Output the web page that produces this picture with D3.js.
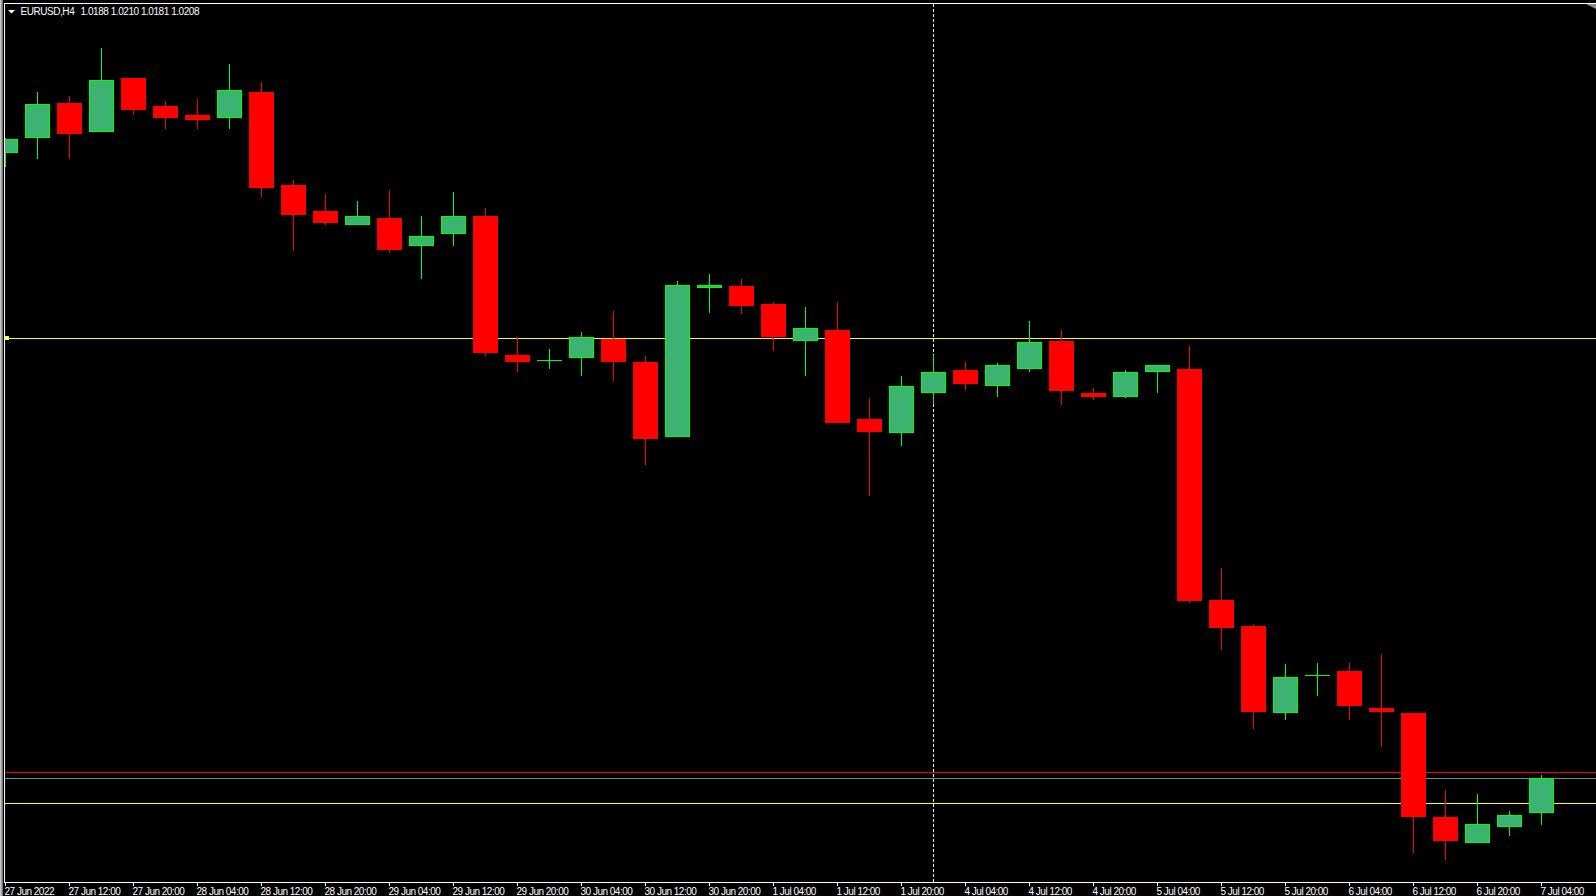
<!DOCTYPE html>
<html>
<head>
<meta charset="utf-8">
<script src="https://cdn.jsdelivr.net/npm/d3@7"></script>
<style>
  html, body { margin: 0; padding: 0; background: #000; overflow: hidden; }
  svg { display: block; }
  text { font-family: "Liberation Sans", Arial, sans-serif; font-size: 10px; letter-spacing: -0.45px; fill: #ffffff; }
</style>
</head>
<body>
<script>
// ---- data (EURUSD, H4) ----
const symbolTitle = "EURUSD,H4";
const lastOHLC = "1.0188 1.0210 1.0181 1.0208";

const opens  = [1.0565,1.0574,1.0594,1.0577,1.0608,1.0592,1.0587,1.0585,1.0600,1.0547,
                1.0532,1.0524,1.0528,1.0512,1.0519,1.0529,1.0450,1.0447,1.0448,1.0459,
                1.0446,1.0403,1.0488,1.0489,1.0479,1.0458,1.0464,1.0413,1.0405,1.0428,
                1.0441,1.0432,1.0442,1.0458,1.0428,1.0426,1.0440,1.0442,1.0310,1.0295,
                1.0245,1.0267,1.0269,1.0248,1.0245,1.0186,1.0171,1.0180,1.0188];
const highs  = [1.0574,1.0600,1.0598,1.0625,1.0608,1.0595,1.0596,1.0616,1.0606,1.0550,
                1.0542,1.0538,1.0544,1.0529,1.0543,1.0534,1.0460,1.0453,1.0463,1.0475,
                1.0449,1.0492,1.0496,1.0493,1.0480,1.0477,1.0480,1.0425,1.0438,1.0450,
                1.0446,1.0445,1.0469,1.0464,1.0431,1.0441,1.0444,1.0455,1.0328,1.0296,
                1.0273,1.0274,1.0274,1.0279,1.0245,1.0201,1.0199,1.0189,1.0210];
const lows   = [1.0557,1.0562,1.0562,1.0577,1.0587,1.0579,1.0579,1.0579,1.0540,1.0509,
                1.0524,1.0524,1.0508,1.0493,1.0512,1.0449,1.0440,1.0442,1.0438,1.0435,
                1.0387,1.0403,1.0474,1.0473,1.0452,1.0438,1.0411,1.0369,1.0398,1.0422,
                1.0430,1.0426,1.0440,1.0421,1.0424,1.0425,1.0428,1.0308,1.0281,1.0236,
                1.0241,1.0255,1.0241,1.0226,1.0165,1.0161,1.0171,1.0175,1.0181];
const closes = [1.0573,1.0593,1.0576,1.0607,1.0590,1.0585,1.0584,1.0601,1.0545,1.0530,
                1.0525,1.0529,1.0510,1.0518,1.0529,1.0451,1.0446,1.0447,1.0460,1.0446,
                1.0402,1.0490,1.0490,1.0478,1.0460,1.0465,1.0411,1.0406,1.0432,1.0440,
                1.0433,1.0444,1.0457,1.0429,1.0426,1.0440,1.0444,1.0309,1.0294,1.0246,
                1.0266,1.0267,1.0249,1.0246,1.0186,1.0172,1.0182,1.0187,1.0208];

const tickLabels = ["27 Jun 2022","27 Jun 12:00","27 Jun 20:00","28 Jun 04:00","28 Jun 12:00",
                    "28 Jun 20:00","29 Jun 04:00","29 Jun 12:00","29 Jun 20:00","30 Jun 04:00",
                    "30 Jun 12:00","30 Jun 20:00","1 Jul 04:00","1 Jul 12:00","1 Jul 20:00",
                    "4 Jul 04:00","4 Jul 12:00","4 Jul 20:00","5 Jul 04:00","5 Jul 12:00",
                    "5 Jul 20:00","6 Jul 04:00","6 Jul 12:00","6 Jul 20:00","7 Jul 04:00"];

const levelPrices = [1.04594, 1.02114, 1.02080, 1.01937];
const levelColors = ["#ffff00", "#ff0000", "#778899", "#ffff00"];
const vlineBar = 29;      // dashed vertical line bar index
const priceMin = 1.01487, priceMax = 1.06510;

// ---- layout ----
const W = 1596, H = 896;
const plotLeft = 5, plotTop = 4, plotBottom = 882;
const bull = "#00ff00", bullFill = "#3cb371", bear = "#ff0000";

const bars = opens.map((o, i) => ({ i, o, h: highs[i], l: lows[i], c: closes[i] }));

const svg = d3.select("body").append("svg").attr("width", W).attr("height", H)
  .attr("shape-rendering", "crispEdges");
svg.append("rect").attr("width", W).attr("height", H).attr("fill", "#000");

const x = d3.scaleLinear().domain([0, bars.length - 1]).range([5, 5 + 32 * (bars.length - 1)]);
const y = d3.scaleLinear().domain([priceMin, priceMax]).range([plotBottom, 3]);
const Y = p => Math.round(y(p));

// window frame
["#c8c8c8", "#a0a0a0", "#787878"].forEach((c, k) =>
  svg.append("rect").attr("x", k).attr("y", 0).attr("width", 1).attr("height", H).attr("fill", c));
svg.append("rect").attr("x", 4).attr("y", 3).attr("width", W - 4).attr("height", 1).attr("fill", "#fff");
svg.append("rect").attr("x", 4).attr("y", 3).attr("width", 1).attr("height", plotBottom - 3).attr("fill", "#fff");

// clip
svg.append("defs").append("clipPath").attr("id", "plot")
  .append("rect").attr("x", plotLeft).attr("y", plotTop).attr("width", W - plotLeft).attr("height", plotBottom - plotTop);
const g = svg.append("g").attr("clip-path", "url(#plot)");

// horizontal levels
g.selectAll("rect.level").data(levelPrices).enter().append("rect")
  .attr("class", "level")
  .attr("x", plotLeft).attr("width", W - plotLeft)
  .attr("y", d => Y(d)).attr("height", 1)
  .attr("fill", (d, i) => levelColors[i]);

// dashed vertical line
g.append("line")
  .attr("x1", x(vlineBar) + 0.5).attr("x2", x(vlineBar) + 0.5)
  .attr("y1", plotTop).attr("y2", plotBottom)
  .attr("stroke", "#fff").attr("stroke-width", 1).attr("stroke-dasharray", "3,2");

// candles
const cg = g.selectAll("g.bar").data(bars).enter().append("g").attr("class", "bar");
cg.append("rect")
  .attr("x", d => x(d.i)).attr("width", 1)
  .attr("y", d => Y(d.h)).attr("height", d => Math.max(1, Y(d.l) - Y(d.h)))
  .attr("fill", d => d.c >= d.o ? bull : bear);
cg.each(function (d) {
  const sel = d3.select(this);
  const x0 = x(d.i) - 12, bw = 25;
  const top = Y(Math.max(d.o, d.c)), bot = Y(Math.min(d.o, d.c));
  if (bot - top < 1) {
    sel.append("rect").attr("x", x0).attr("width", bw).attr("y", top).attr("height", 1).attr("fill", bull);
  } else if (d.c > d.o) {
    sel.append("rect").attr("x", x0).attr("width", bw).attr("y", top).attr("height", bot - top).attr("fill", bull);
    if (bot - top > 2)
      sel.append("rect").attr("x", x0 + 1).attr("width", bw - 2).attr("y", top + 1).attr("height", bot - top - 2).attr("fill", bullFill);
  } else {
    sel.append("rect").attr("x", x0).attr("width", bw).attr("y", top).attr("height", bot - top).attr("fill", bear);
  }
});

// selected-line handle
svg.append("rect").attr("x", 5.5).attr("y", Y(levelPrices[0]) - 1.5).attr("width", 3).attr("height", 3)
  .attr("fill", "#fff").attr("stroke", "#ffff00").attr("stroke-width", 1).attr("shape-rendering", "auto");

// time axis
svg.append("rect").attr("x", 4).attr("y", plotBottom).attr("width", W - 4).attr("height", 1).attr("fill", "#fff");
const axis = d3.axisBottom(x)
  .tickValues(tickLabels.map((t, k) => 2 * k))
  .tickFormat((d, k) => tickLabels[k])
  .tickSize(3).tickSizeOuter(0);
const ax = svg.append("g").attr("transform", `translate(0,${plotBottom + 1})`).call(axis);
ax.select(".domain").remove();
ax.selectAll(".tick line").attr("stroke", "#fff");
ax.selectAll(".tick text")
  .attr("text-anchor", "start").attr("x", -1).attr("y", 12).attr("dy", null)
  .attr("fill", "#fff").style("font-family", '"Liberation Sans", Arial, sans-serif')
  .style("font-size", "10px").style("letter-spacing", "-0.5px");

// title
svg.append("path").attr("d", "M8,10 L15,10 L11.5,13.6 Z").attr("fill", "#fff").attr("shape-rendering", "auto");
svg.append("text").attr("x", 20.5).attr("y", 15).text(symbolTitle);
svg.append("text").attr("x", 80.5).attr("y", 15).text(lastOHLC);

// chart shift marker (top right)
svg.append("path").attr("d", `M${W - 10},4 L${W},4 L${W},9 Z`).attr("fill", "#8c8c8c").attr("shape-rendering", "auto");
</script>
</body>
</html>
